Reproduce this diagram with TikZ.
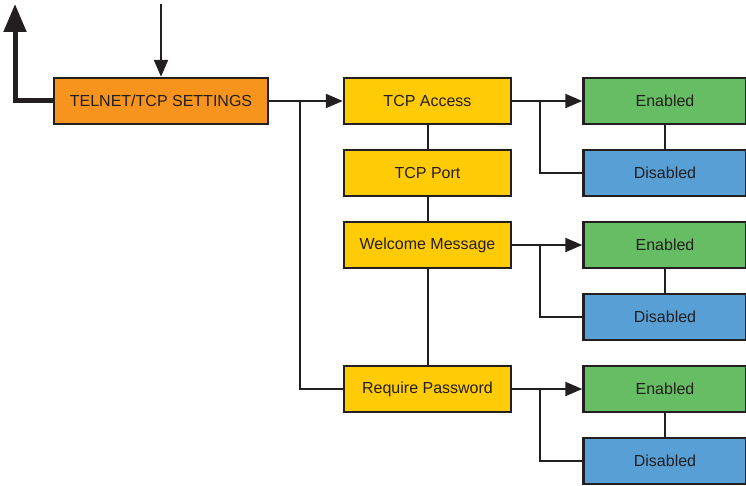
\documentclass[tikz,border=0pt]{standalone}
\usepackage{fontspec}
\setmainfont{Liberation Sans}
\usetikzlibrary{arrows.meta,backgrounds}
\definecolor{ln}{HTML}{231F20}
\definecolor{orangebox}{HTML}{F7941D}
\definecolor{yellowbox}{HTML}{FFCB05}
\definecolor{greenbox}{HTML}{66BD63}
\definecolor{bluebox}{HTML}{579FD5}
\tikzset{
  box/.style={draw=ln, line width=2.4pt, minimum height=46pt, inner sep=0pt, font=\fontsize{16}{18}\selectfont, text=ln},
  mainbox/.style={box, fill=orangebox, minimum width=214pt},
  itembox/.style={box, fill=yellowbox, minimum width=167pt},
  enbox/.style={box, fill=greenbox, minimum width=163pt},
  disbox/.style={box, fill=bluebox, minimum width=163pt},
  conn/.style={draw=ln, line width=2pt},
  arr/.style={conn, -{Triangle[length=17pt,width=14pt]}},
  bigarr/.style={draw=ln, line width=5pt, -{Triangle[length=28pt,width=22pt]}}
}
\begin{document}
\begin{tikzpicture}[x=1pt,y=-1pt]
\useasboundingbox (0,0) rectangle (746,486);
\node[mainbox] (main) at (161,101) {TELNET/TCP SETTINGS};
\node[itembox] (acc) at (427.5,101) {TCP Access};
\node[itembox] (port) at (427.5,173) {TCP Port};
\node[itembox] (wel) at (427.5,245) {Welcome Message};
\node[itembox] (pw) at (427.5,389) {Require Password};
\node[enbox] (e1) at (665,101) {Enabled};
\node[disbox] (d1) at (665,173) {Disabled};
\node[enbox] (e2) at (665,245) {Enabled};
\node[disbox] (d2) at (665,317) {Disabled};
\node[enbox] (e3) at (665,389) {Enabled};
\node[disbox] (d3) at (665,461) {Disabled};
\coordinate (top) at (161,4);
\coordinate (back) at (15,4);
\draw[arr] (top) -- (main.north);
\draw[arr] (main.east) -- (acc.west);
\draw[arr] (acc.east) -- (e1.west);
\draw[arr] (wel.east) -- (e2.west);
\draw[arr] (pw.east) -- (e3.west);
\begin{scope}[on background layer]
\draw[bigarr] (main.west) -| (back);
\draw[conn] (main.east -| 300,0) |- (pw.west);
\draw[conn] (acc.south) -- (port.north) (port.south) -- (wel.north) (wel.south) -- (pw.north);
\draw[conn] (e1.south) -- (d1.north) (e2.south) -- (d2.north) (e3.south) -- (d3.north);
\draw[conn] (acc.east -| 540,0) |- (d1.west);
\draw[conn] (wel.east -| 540,0) |- (d2.west);
\draw[conn] (pw.east -| 540,0) |- (d3.west);
\end{scope}
\end{tikzpicture}
\end{document}
